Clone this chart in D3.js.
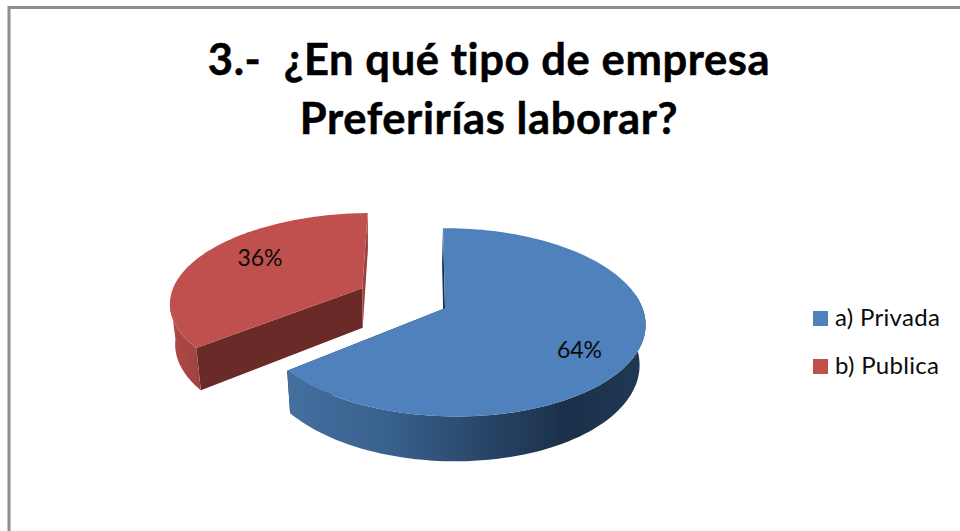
<!DOCTYPE html>
<html><head><meta charset="utf-8">
<style>html,body{margin:0;padding:0;background:#fff;overflow:hidden}svg{display:block}text{font-variant-ligatures:none;font-feature-settings:"liga" 0}</style>
<script src="https://cdnjs.cloudflare.com/ajax/libs/d3/7.8.5/d3.min.js"></script>
</head><body><svg id="c" width="960" height="531"></svg>
<script>
const titleLines = ["3.-  ¿En qué tipo de empresa", "Preferirías laborar?"];
const categories = ["a) Privada", "b) Publica"];
const values = [64, 36];
const valueLabels = ["64%", "36%"];
const colors = ["#4f81bd", "#c0504d"];

const svg = d3.select("#c");
const W = 960, H = 531;
svg.append("rect").attr("width", W).attr("height", H).attr("fill", "#fff");
svg.append("rect").attr("x", 9).attr("y", 7.5).attr("width", W + 20).attr("height", H + 20)
  .attr("fill", "none").attr("stroke", "#8e8e8e").attr("stroke-width", 3);

const defs = svg.append("defs");
function grad(id, x1, x2, stops) {
  const g = defs.append("linearGradient").attr("id", id).attr("gradientUnits", "userSpaceOnUse")
    .attr("x1", x1).attr("x2", x2).attr("y1", 0).attr("y2", 0);
  stops.forEach(s => g.append("stop").attr("offset", s[0]).attr("stop-color", s[1]));
}
grad("blueWall", 288, 642, [[0, "#446f9f"], [0.3, "#38608c"], [0.55, "#294668"], [0.78, "#1b304a"], [1, "#203853"]]);
grad("redWall", 170, 203, [[0, "#b04b48"], [1, "#9c413e"]]);

// Tilted-disc projection of each exploded slice
const geo = [
  { ax: 445, ay: 308.3, rx: 192, ry: 92, p: 0.149, q: 0.03, s: 2.3, t: 1, bx: 444, by: 347.7,
    wall: "url(#blueWall)", cut: "#1b3350", rimFrom: 1.4, rimTo: 7 },
  { ax: 362.3, ay: 288.3, rx: 194, ry: 86.5, p: 0.149, q: 0.025, s: -6.2, t: 0, bx: 362.7, by: 327.7,
    wall: "url(#redWall)", cut: "#6a2b28", inner: "#9a403d", rimFrom: 0, rimTo: 4.6 }
];
const kx = 0.975, ky = 1.05;
function upperPt(g, a) {
  const u = Math.sin(a), v = -Math.cos(a), w = 1 / (1 - g.p * v - g.q * u);
  return [g.ax + (g.rx * u + g.s * v) * w, g.ay + (g.ry * v + g.t * u) * w];
}
function lowerPt(g, a) {
  const P = upperPt(g, a);
  return [g.bx + kx * (P[0] - g.ax), g.by + ky * (P[1] - g.ay)];
}
const line = d3.line();
const sweep = (a0, a1) => d3.range(0, 121).map(d3.scaleLinear().domain([0, 120]).range([a0, a1]));

const arcs = d3.pie().sort(null).startAngle(0).endAngle(2 * Math.PI)(values);
const gRed = svg.append("g"), gBlue = svg.append("g");

arcs.forEach((arc, i) => {
  const g = geo[i], root = i === 0 ? gBlue : gRed;
  const a = sweep(arc.startAngle, arc.endAngle);
  const apex = [g.ax, g.ay], lowApex = [g.bx, g.by];
  // wall along the slice start edge
  root.append("path").attr("d", line([apex, upperPt(g, a[0]), lowerPt(g, a[0]), lowApex]) + "Z")
    .attr("fill", g.cut);
  // wall along the slice end edge
  root.append("path").attr("d", line([apex, upperPt(g, a[120]), lowerPt(g, a[120]), lowApex]) + "Z")
    .attr("fill", i === 0 ? g.cut : g.inner);
  // outer rim
  const rim = a.filter(x => x >= g.rimFrom && x <= g.rimTo);
  root.append("path")
    .attr("d", line(rim.map(x => upperPt(g, x)).concat(rim.slice().reverse().map(x => lowerPt(g, x)))) + "Z")
    .attr("fill", g.wall);
  // upper face
  root.append("path").attr("d", line([apex].concat(a.map(x => upperPt(g, x)))) + "Z")
    .attr("fill", colors[i]);
});

const font = "Lato, Carlito, Calibri, sans-serif";
svg.selectAll("text.t").data(titleLines).enter().append("text").attr("class", "t")
  .attr("x", 489).attr("y", (d, i) => 75 + i * 59).attr("text-anchor", "middle")
  .attr("font-family", font).attr("font-weight", 700).attr("font-size", 43.5).attr("letter-spacing", 0.6)
  .attr("stroke", "#000").attr("stroke-width", 0.5)
  .style("white-space", "pre").attr("fill", "#000").text(d => d);

const labelPos = [[579.5, 357.5], [260, 266]];
svg.selectAll("text.v").data(valueLabels).enter().append("text").attr("class", "v")
  .attr("x", (d, i) => labelPos[i][0]).attr("y", (d, i) => labelPos[i][1]).attr("text-anchor", "middle")
  .attr("font-family", font).attr("font-size", 23).attr("fill", "#0a0a0a").text(d => d);

const legY = d3.scalePoint().domain(categories).range([318.5, 366.5]);
const leg = svg.selectAll("g.l").data(categories).enter().append("g").attr("class", "l");
leg.append("rect").attr("x", 813).attr("y", d => legY(d) - 7.5).attr("width", 15).attr("height", 15)
  .attr("fill", (d, i) => colors[i]);
leg.append("text").attr("x", 835).attr("y", d => legY(d) + 7.5)
  .attr("font-family", font).attr("font-size", 24).attr("letter-spacing", 0.3).attr("fill", "#0a0a0a").text(d => d);
</script></body></html>
